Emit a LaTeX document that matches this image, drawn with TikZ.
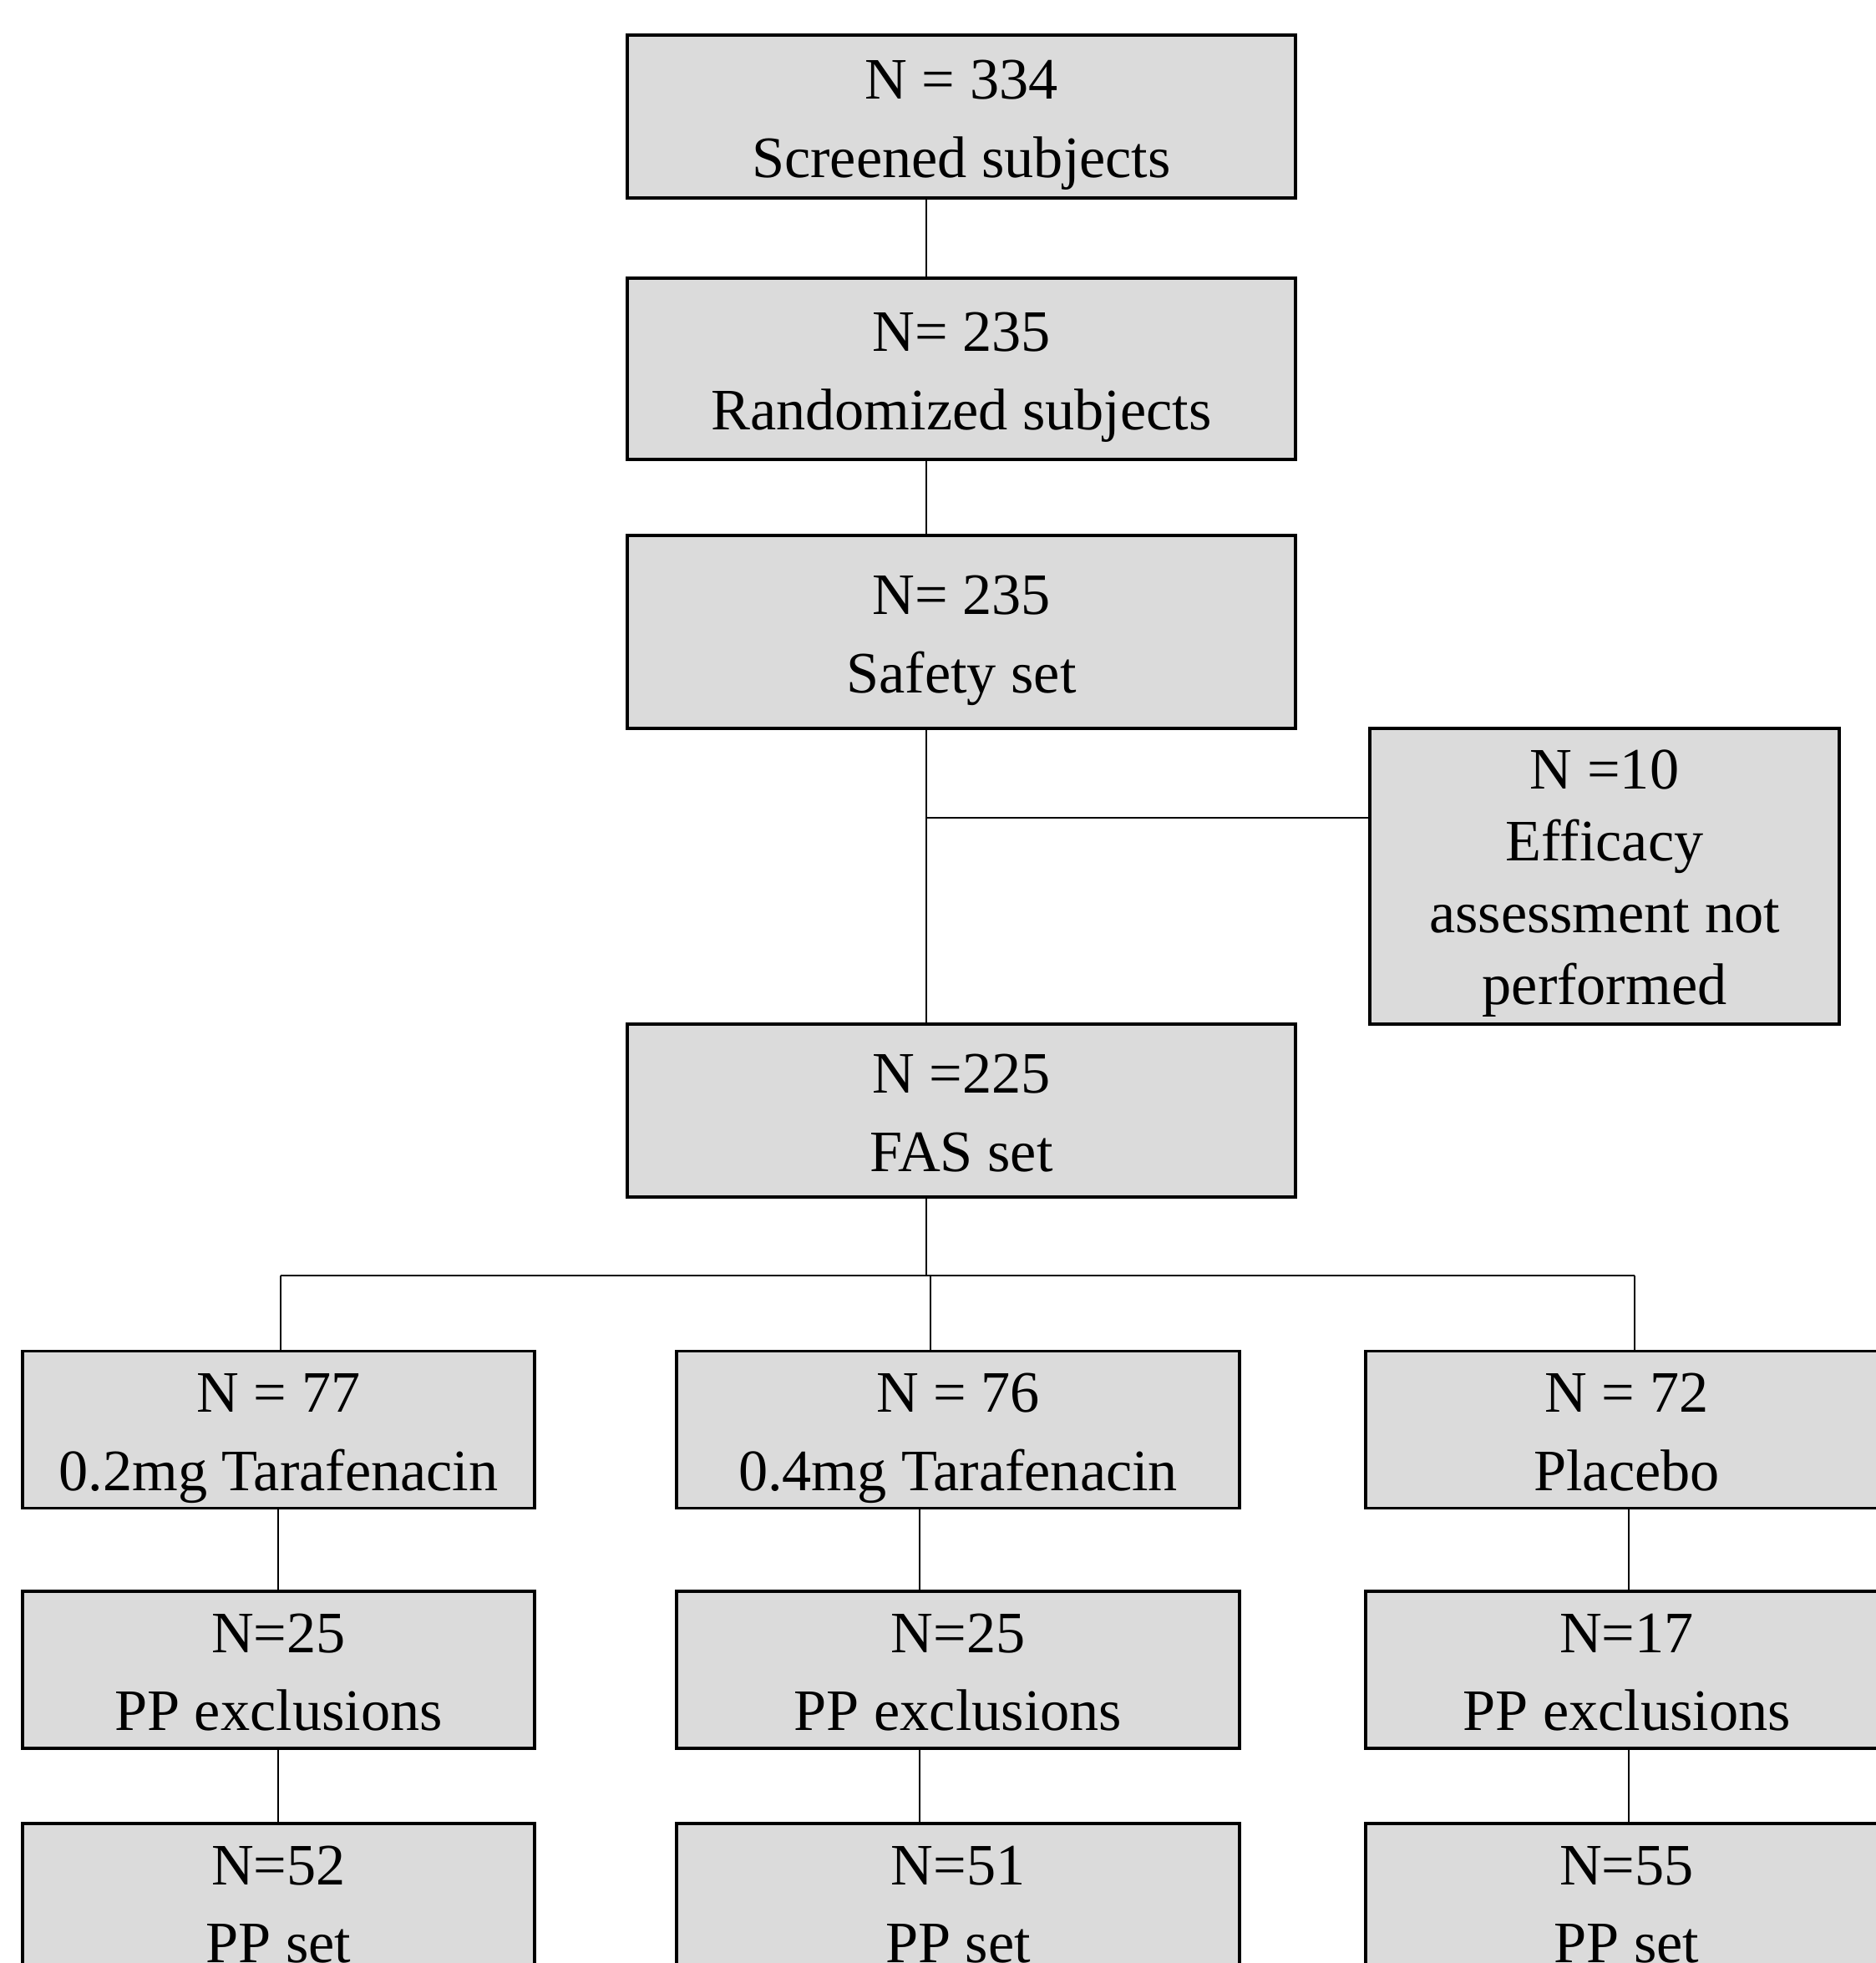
\documentclass[tikz,border=0pt]{standalone}
\usepackage{fontspec}
\setmainfont{Liberation Serif}
\definecolor{boxgray}{RGB}{219,219,219}
\begin{document}
\begin{tikzpicture}[
  flowbox/.style={draw=black, line width=1.1pt, fill=boxgray, align=center, inner sep=0pt,
    font=\fontsize{20}{26.7}\selectfont,
    execute at begin node={\rule{0pt}{#1}},
    execute at end node={\rule[-6pt]{0pt}{6pt}}},
  flowbox/.default=47.5pt,
  link/.style={draw=black, line width=0.8pt}]
  \useasboundingbox (0,0) rectangle (22.45,-23.5);
  % main column
  \node[flowbox, minimum width=8cm, minimum height=1.95cm] (screened) at (11.51,-1.395) {N = 334\\Screened subjects};
  \node[flowbox, minimum width=8cm, minimum height=2.17cm] (randomized) at (11.51,-4.415) {N= 235\\Randomized subjects};
  \node[flowbox, minimum width=8cm, minimum height=2.31cm] (safety) at (11.51,-7.565) {N= 235\\Safety set};
  \node[flowbox=93.5pt, minimum width=5.62cm, minimum height=3.54cm, font=\fontsize{20}{24.5}\selectfont] (noeff) at (19.21,-10.49) {N =10\\Efficacy\\assessment not\\performed};
  \node[flowbox, minimum width=8cm, minimum height=2.07cm] (fas) at (11.51,-13.295) {N =225\\FAS set};
  \coordinate (spine) at (11.09,0);
  \coordinate (exit) at (11.09,-9.79);
  \coordinate (branch) at (11.09,-15.27);
  \draw[link] (screened.south -| spine) -- (randomized.north -| spine);
  \draw[link] (randomized.south -| spine) -- (safety.north -| spine);
  \draw[link] (safety.south -| spine) -- (fas.north -| spine);
  \draw[link] (exit) -- (exit -| noeff.west);
  \draw[link] (fas.south -| spine) -- (branch);
  % three arms
  \foreach \arm/\xa/\xb/\xl/\xr/\nn/\grp/\nx/\np in {
    low/3.36/3.33/0.27/6.40/N = 77/0.2mg Tarafenacin/N=25/N=52,
    high/11.14/11.01/8.10/14.84/N = 76/0.4mg Tarafenacin/N=25/N=51,
    plac/19.57/19.50/16.35/22.60/N = 72/Placebo/N=17/N=55} {
    \node[flowbox, minimum width={(\xr-\xl)*1cm}, minimum height=1.85cm] (\arm-grp) at ({(\xl+\xr)/2},-17.115) {\nn\\\grp};
    \node[flowbox, minimum width={(\xr-\xl)*1cm}, minimum height=1.86cm] (\arm-excl) at ({(\xl+\xr)/2},-19.99) {\nx\\PP exclusions};
    \node[flowbox, minimum width={(\xr-\xl)*1cm}, minimum height=1.86cm] (\arm-pp) at ({(\xl+\xr)/2},-22.77) {\np\\PP set};
    \coordinate (\arm-top) at (\xa,-15.27);
    \coordinate (\arm-mid) at (\xb,0);
    \draw[link] (\arm-top) -- (\arm-top |- \arm-grp.north);
    \draw[link] (\arm-grp.south -| \arm-mid) -- (\arm-excl.north -| \arm-mid);
    \draw[link] (\arm-excl.south -| \arm-mid) -- (\arm-pp.north -| \arm-mid);
  }
  \draw[link] (low-top) -- (plac-top);
\end{tikzpicture}
\end{document}
